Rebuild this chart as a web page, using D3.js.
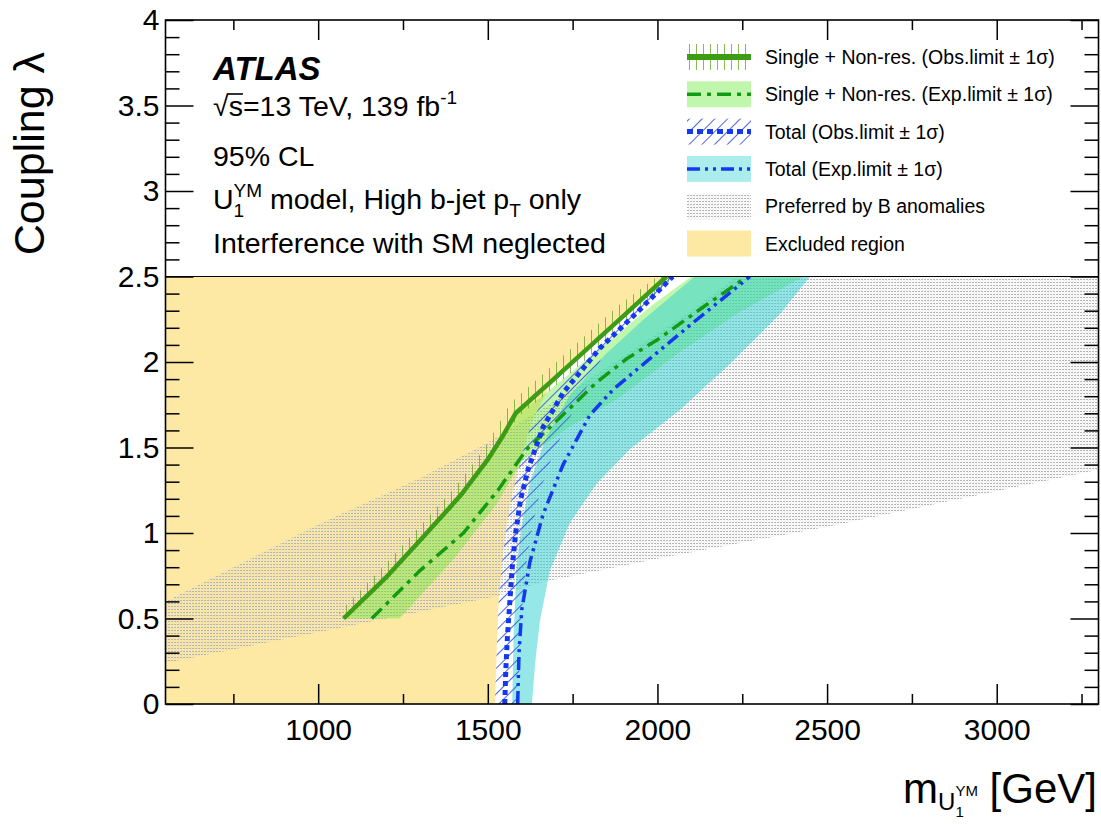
<!DOCTYPE html>
<html>
<head>
<meta charset="utf-8">
<script src="https://cdn.jsdelivr.net/npm/d3@7"></script>
<style>
  body { margin: 0; background: #fff; }
  text { font-family: "Liberation Sans", Arial, Helvetica, sans-serif; }
</style>
</head>
<body>
<svg id="chart" width="1101" height="826"></svg>
<script>
// ---- values: [mass in GeV, coupling lambda] ----
var xTickVals = [1000, 1500, 2000, 2500, 3000];
var xMinorVals = [750, 1250, 1750, 2250, 2750, 3250];
var yTickVals = [0, 0.5, 1, 1.5, 2, 2.5, 3, 3.5, 4];

// single + non-resonant, observed limit and its +-1 sigma (hatched) band
var obsSng = [[1075,0.5],[1200,0.74],[1320,1.0],[1420,1.22],[1500,1.43],[1545,1.57],[1582,1.70],[1700,1.91],[1800,2.09],[1900,2.27],[2027,2.5]];
var obsSngUp = [[1060,0.53],[1185,0.79],[1305,1.05],[1405,1.27],[1485,1.48],[1530,1.63],[1567,1.76],[1685,1.97],[1785,2.15],[1885,2.33],[2000,2.5]];
var obsSngDn = [[1085,0.5],[1205,0.73],[1325,0.99],[1425,1.21],[1505,1.42],[1550,1.56],[1590,1.68],[1712,1.88],[1815,2.06],[1918,2.24],[2050,2.5]];

// single + non-resonant, expected limit and +-1 sigma band
var expSng = [[1158,0.5],[1300,0.78],[1428,1.0],[1530,1.25],[1615,1.49],[1700,1.65],[1820,1.88],[1910,2.02],[2000,2.13],[2134,2.32],[2265,2.5]];
var expSngLo = [[1075,0.5],[1200,0.76],[1320,1.0],[1420,1.22],[1500,1.43],[1545,1.58],[1585,1.70],[1660,1.80],[1770,1.98],[1880,2.16],[1990,2.34],[2100,2.5]];
var expSngHi = [[1240,0.5],[1400,0.85],[1526,1.17],[1600,1.42],[1740,1.62],[1880,1.78],[2060,2.05],[2240,2.29],[2430,2.5]];

// total, observed limit and +-1 sigma band
var obsTot = [[1550,0],[1553,0.2],[1558,0.4],[1565,0.6],[1572,0.8],[1582,1.0],[1597,1.2],[1620,1.38],[1663,1.62],[1722,1.82],[1830,2.08],[1940,2.29],[2045,2.5]];
var obsTotLo = [[1521,0],[1526,0.3],[1532,0.6],[1543,0.85],[1556,1.05],[1575,1.25],[1600,1.45],[1630,1.65],[1680,1.85],[1760,2.02],[1860,2.2],[1950,2.35],[2035,2.5]];
var obsTotHi = [[1590,0],[1595,0.3],[1603,0.6],[1615,0.85],[1632,1.05],[1655,1.25],[1690,1.45],[1735,1.65],[1790,1.85],[1835,2.02],[1920,2.2],[1990,2.35],[2065,2.5]];

// total, expected limit and +-1 sigma band
var expTot = [[1588,0],[1592,0.3],[1600,0.55],[1624,0.83],[1663,1.11],[1722,1.40],[1801,1.69],[1870,1.84],[1948,1.97],[2105,2.23],[2273,2.5]];
var expTotLo = [[1572,0],[1576,0.4],[1585,0.8],[1600,1.05],[1625,1.3],[1670,1.55],[1740,1.8],[1850,2.05],[1960,2.25],[2110,2.5]];
var expTotHi = [[1630,0],[1640,0.25],[1654,0.49],[1683,0.78],[1742,1.06],[1821,1.29],[1919,1.49],[2066,1.72],[2214,1.99],[2361,2.28],[2450,2.5]];

// region preferred by B anomalies
var prefLo = [[550,0.24],[1000,0.42],[1526,0.63],[1654,0.71],[2000,0.85],[2508,1.04],[3300,1.37]];
var prefHi = [[550,0.6],[1000,1.05],[1300,1.32],[1510,1.54],[1800,1.9],[2100,2.3],[2300,2.6],[3300,2.6]];

var legendLabels = [
  "Single + Non-res. (Obs.limit \u00b1 1\u03c3)",
  "Single + Non-res. (Exp.limit \u00b1 1\u03c3)",
  "Total (Obs.limit \u00b1 1\u03c3)",
  "Total (Exp.limit \u00b1 1\u03c3)",
  "Preferred by B anomalies",
  "Excluded region"
];

// colours
var yellow = "#fde8a4";
var greenBand = "rgb(90,235,40)";
var cyanBand = "rgb(45,209,209)";
var obsGreen = "#3c9c14";
var expGreen = "#139a13";
var blue = "#1437f0";

var svg = d3.select("#chart");
var x = d3.scaleLinear().domain([550, 3300]).range([165.5, 1098.5]);
var y = d3.scaleLinear().domain([0, 4]).range([704, 20]);

var defs = svg.append("defs");
defs.append("clipPath").attr("id", "plotClip")
  .append("rect")
  .attr("x", x(550)).attr("y", y(4))
  .attr("width", x(3300) - x(550)).attr("height", y(0) - y(4));

// gray dotted fill
var dots = defs.append("pattern").attr("id", "dots")
  .attr("patternUnits", "userSpaceOnUse").attr("width", 3).attr("height", 3);
dots.append("rect").attr("width", 2).attr("height", 1).attr("fill", "#b4b4b4");
dots.append("rect").attr("x", 1.5).attr("y", 1.5).attr("width", 1).attr("height", 1).attr("fill", "#d2d2d2");

// vertical green hatch
var vh = defs.append("pattern").attr("id", "vhatch")
  .attr("patternUnits", "userSpaceOnUse").attr("width", 7).attr("height", 10);
vh.append("line").attr("x1", 3.5).attr("x2", 3.5).attr("y1", 0).attr("y2", 10)
  .attr("stroke", "#6aa82a").attr("stroke-width", 0.8);

// diagonal blue hatch
var dh = defs.append("pattern").attr("id", "dhatch")
  .attr("patternUnits", "userSpaceOnUse").attr("width", 9).attr("height", 9)
  .attr("patternTransform", "rotate(45)");
dh.append("line").attr("x1", 4.5).attr("x2", 4.5).attr("y1", 0).attr("y2", 9)
  .attr("stroke", "#3a55e0").attr("stroke-width", 0.9);

var line = d3.line().x(function(d) { return x(d[0]); }).y(function(d) { return y(d[1]); });
function band(lo, hi) {
  return line(lo.concat(hi.slice().reverse())) + "Z";
}

var plot = svg.append("g").attr("clip-path", "url(#plotClip)");

// excluded region
plot.append("path")
  .attr("d", line([[550, 0]].concat(obsTotLo, [[550, 2.5]])) + "Z")
  .attr("fill", yellow);

// preferred by B anomalies
plot.append("path").attr("d", band(prefLo, prefHi)).attr("fill", "url(#dots)");

// expected bands
plot.append("path").attr("d", band(expSngLo, expSngHi))
  .attr("fill", greenBand).attr("fill-opacity", 0.38);
plot.append("path").attr("d", band(expTotLo, expTotHi))
  .attr("fill", cyanBand).attr("fill-opacity", 0.5);

// observed hatched bands
plot.append("path").attr("d", band(obsSngUp, obsSngDn)).attr("fill", "url(#vhatch)");
plot.append("path").attr("d", band(obsTotLo, obsTotHi)).attr("fill", "url(#dhatch)");

// limit lines
plot.append("path").attr("d", line(expSng)).attr("fill", "none")
  .attr("stroke", expGreen).attr("stroke-width", 3.5).attr("stroke-dasharray", "14,6,4,6");
plot.append("path").attr("d", line(expTot)).attr("fill", "none")
  .attr("stroke", blue).attr("stroke-width", 3.5).attr("stroke-dasharray", "13,5,3,5,3,5");
plot.append("path").attr("d", line(obsTot)).attr("fill", "none")
  .attr("stroke", blue).attr("stroke-width", 5).attr("stroke-dasharray", "5,4");
plot.append("path").attr("d", line(obsSng)).attr("fill", "none")
  .attr("stroke", obsGreen).attr("stroke-width", 4.5);

// legend box covering the top of the frame
svg.append("rect")
  .attr("x", x(550)).attr("y", y(4))
  .attr("width", x(3300) - x(550)).attr("height", y(2.5) - y(4))
  .attr("fill", "#fff");
svg.append("line")
  .attr("x1", x(550)).attr("x2", x(3300))
  .attr("y1", y(2.5)).attr("y2", y(2.5))
  .attr("stroke", "#000").attr("stroke-width", 1.2);

// legend entries
var lg = svg.append("g");
var lx = 687, lw = 64, lh = 26;
legendLabels.forEach(function(lab, i) {
  var cy = 57 + i * 37.3;
  var g = lg.append("g");
  if (i === 0) {
    g.append("rect").attr("x", lx).attr("y", cy - lh / 2).attr("width", lw).attr("height", lh).attr("fill", "url(#vhatch)");
    g.append("line").attr("x1", lx).attr("x2", lx + lw).attr("y1", cy).attr("y2", cy)
      .attr("stroke", obsGreen).attr("stroke-width", 6);
  } else if (i === 1) {
    g.append("rect").attr("x", lx).attr("y", cy - lh / 2).attr("width", lw).attr("height", lh)
      .attr("fill", greenBand).attr("fill-opacity", 0.38);
    g.append("line").attr("x1", lx).attr("x2", lx + lw).attr("y1", cy).attr("y2", cy)
      .attr("stroke", expGreen).attr("stroke-width", 3.5).attr("stroke-dasharray", "14,6,4,6");
  } else if (i === 2) {
    g.append("rect").attr("x", lx).attr("y", cy - lh / 2).attr("width", lw).attr("height", lh).attr("fill", "url(#dhatch)");
    g.append("line").attr("x1", lx).attr("x2", lx + lw).attr("y1", cy).attr("y2", cy)
      .attr("stroke", blue).attr("stroke-width", 5).attr("stroke-dasharray", "6,4");
  } else if (i === 3) {
    g.append("rect").attr("x", lx).attr("y", cy - lh / 2).attr("width", lw).attr("height", lh)
      .attr("fill", cyanBand).attr("fill-opacity", 0.4);
    g.append("line").attr("x1", lx).attr("x2", lx + lw).attr("y1", cy).attr("y2", cy)
      .attr("stroke", blue).attr("stroke-width", 3.5).attr("stroke-dasharray", "13,5,3,5,3,5");
  } else if (i === 4) {
    g.append("rect").attr("x", lx).attr("y", cy - lh / 2).attr("width", lw).attr("height", lh).attr("fill", "url(#dots)");
  } else {
    g.append("rect").attr("x", lx).attr("y", cy - lh / 2).attr("width", lw).attr("height", lh).attr("fill", yellow);
  }
  g.append("text").attr("x", 765).attr("y", cy + 7).attr("font-size", 19.5).text(lab);
});

// ATLAS label block
var tx = 213;
svg.append("text").attr("x", tx).attr("y", 80)
  .attr("font-size", 33).attr("font-weight", "bold").attr("font-style", "italic").text("ATLAS");

var l2 = svg.append("text").attr("x", tx).attr("y", 116).attr("font-size", 28.5);
l2.append("tspan").text("\u221as=13 TeV, 139 fb");
l2.append("tspan").attr("font-size", 19).attr("dy", -12).text("-1");
var ext0 = l2.node().getExtentOfChar(0), ext1 = l2.node().getExtentOfChar(1);
svg.append("line")
  .attr("x1", ext0.x + ext0.width - 1).attr("x2", ext1.x + ext1.width)
  .attr("y1", 116 - 22).attr("y2", 116 - 22)
  .attr("stroke", "#000").attr("stroke-width", 1.6);

svg.append("text").attr("x", tx).attr("y", 166).attr("font-size", 28.5).text("95% CL");

var l4 = svg.append("text").attr("x", tx).attr("y", 209).attr("font-size", 28.5);
l4.append("tspan").text("U");
l4.append("tspan").attr("font-size", 19).attr("dy", 8).text("1");
l4.append("tspan").attr("font-size", 19).attr("dx", -10.6).attr("dy", -20).text("YM");
l4.append("tspan").attr("dy", 12).text(" model, High b-jet p");
l4.append("tspan").attr("font-size", 19).attr("dy", 8).text("T");
l4.append("tspan").attr("dy", -8).text(" only");

svg.append("text").attr("x", tx).attr("y", 253).attr("font-size", 28.5).text("Interference with SM neglected");

// axes: ticks drawn inward on all four sides
function styleAxis(g) {
  g.select(".domain").remove();
  g.selectAll(".tick line").attr("stroke", "#000").attr("stroke-width", 1.5);
  g.selectAll("text").attr("font-size", 30).attr("fill", "#000")
    .attr("font-family", "'Liberation Sans', Arial, sans-serif");
}
var yMinorVals = d3.range(0, 41).map(function(i) { return i / 10; })
  .filter(function(v) { return Math.abs(v * 2 - Math.round(v * 2)) > 1e-6; });

svg.append("g").attr("transform", "translate(0," + y(0) + ")")
  .call(d3.axisBottom(x).tickValues(xTickVals).tickSizeInner(-20).tickSizeOuter(0)
    .tickPadding(15).tickFormat(d3.format("d")))
  .call(styleAxis);
svg.append("g").attr("transform", "translate(0," + y(0) + ")")
  .call(d3.axisBottom(x).tickValues(xMinorVals).tickSizeInner(-10).tickSizeOuter(0).tickFormat(""))
  .call(styleAxis);
svg.append("g").attr("transform", "translate(0," + y(4) + ")")
  .call(d3.axisTop(x).tickValues(xTickVals).tickSizeInner(-20).tickSizeOuter(0).tickFormat(""))
  .call(styleAxis);
svg.append("g").attr("transform", "translate(0," + y(4) + ")")
  .call(d3.axisTop(x).tickValues(xMinorVals).tickSizeInner(-10).tickSizeOuter(0).tickFormat(""))
  .call(styleAxis);

svg.append("g").attr("transform", "translate(" + x(550) + ",0)")
  .call(d3.axisLeft(y).tickValues(yTickVals).tickSizeInner(-28).tickSizeOuter(0)
    .tickPadding(6).tickFormat(d3.format("~g")))
  .call(styleAxis);
svg.append("g").attr("transform", "translate(" + x(550) + ",0)")
  .call(d3.axisLeft(y).tickValues(yMinorVals).tickSizeInner(-14).tickSizeOuter(0).tickFormat(""))
  .call(styleAxis);
svg.append("g").attr("transform", "translate(" + x(3300) + ",0)")
  .call(d3.axisRight(y).tickValues(yTickVals).tickSizeInner(-28).tickSizeOuter(0).tickFormat(""))
  .call(styleAxis);
svg.append("g").attr("transform", "translate(" + x(3300) + ",0)")
  .call(d3.axisRight(y).tickValues(yMinorVals).tickSizeInner(-14).tickSizeOuter(0).tickFormat(""))
  .call(styleAxis);

// frame
svg.append("rect")
  .attr("x", x(550)).attr("y", y(4))
  .attr("width", x(3300) - x(550)).attr("height", y(0) - y(4))
  .attr("fill", "none").attr("stroke", "#000").attr("stroke-width", 1.6);

// axis titles
var xt = svg.append("text").attr("x", 1097).attr("y", 803)
  .attr("text-anchor", "end").attr("font-size", 42);
xt.append("tspan").text("m");
xt.append("tspan").attr("font-size", 24).attr("dy", 7).text("U");
xt.append("tspan").attr("font-size", 15).attr("dy", 7).text("1");
xt.append("tspan").attr("font-size", 15).attr("dx", -8.3).attr("dy", -21).text("YM");
xt.append("tspan").attr("dy", 7).text(" [GeV]");

svg.append("text")
  .attr("transform", "translate(44,52) rotate(-90)")
  .attr("text-anchor", "end").attr("font-size", 43)
  .text("Coupling \u03bb");
</script>
</body>
</html>
